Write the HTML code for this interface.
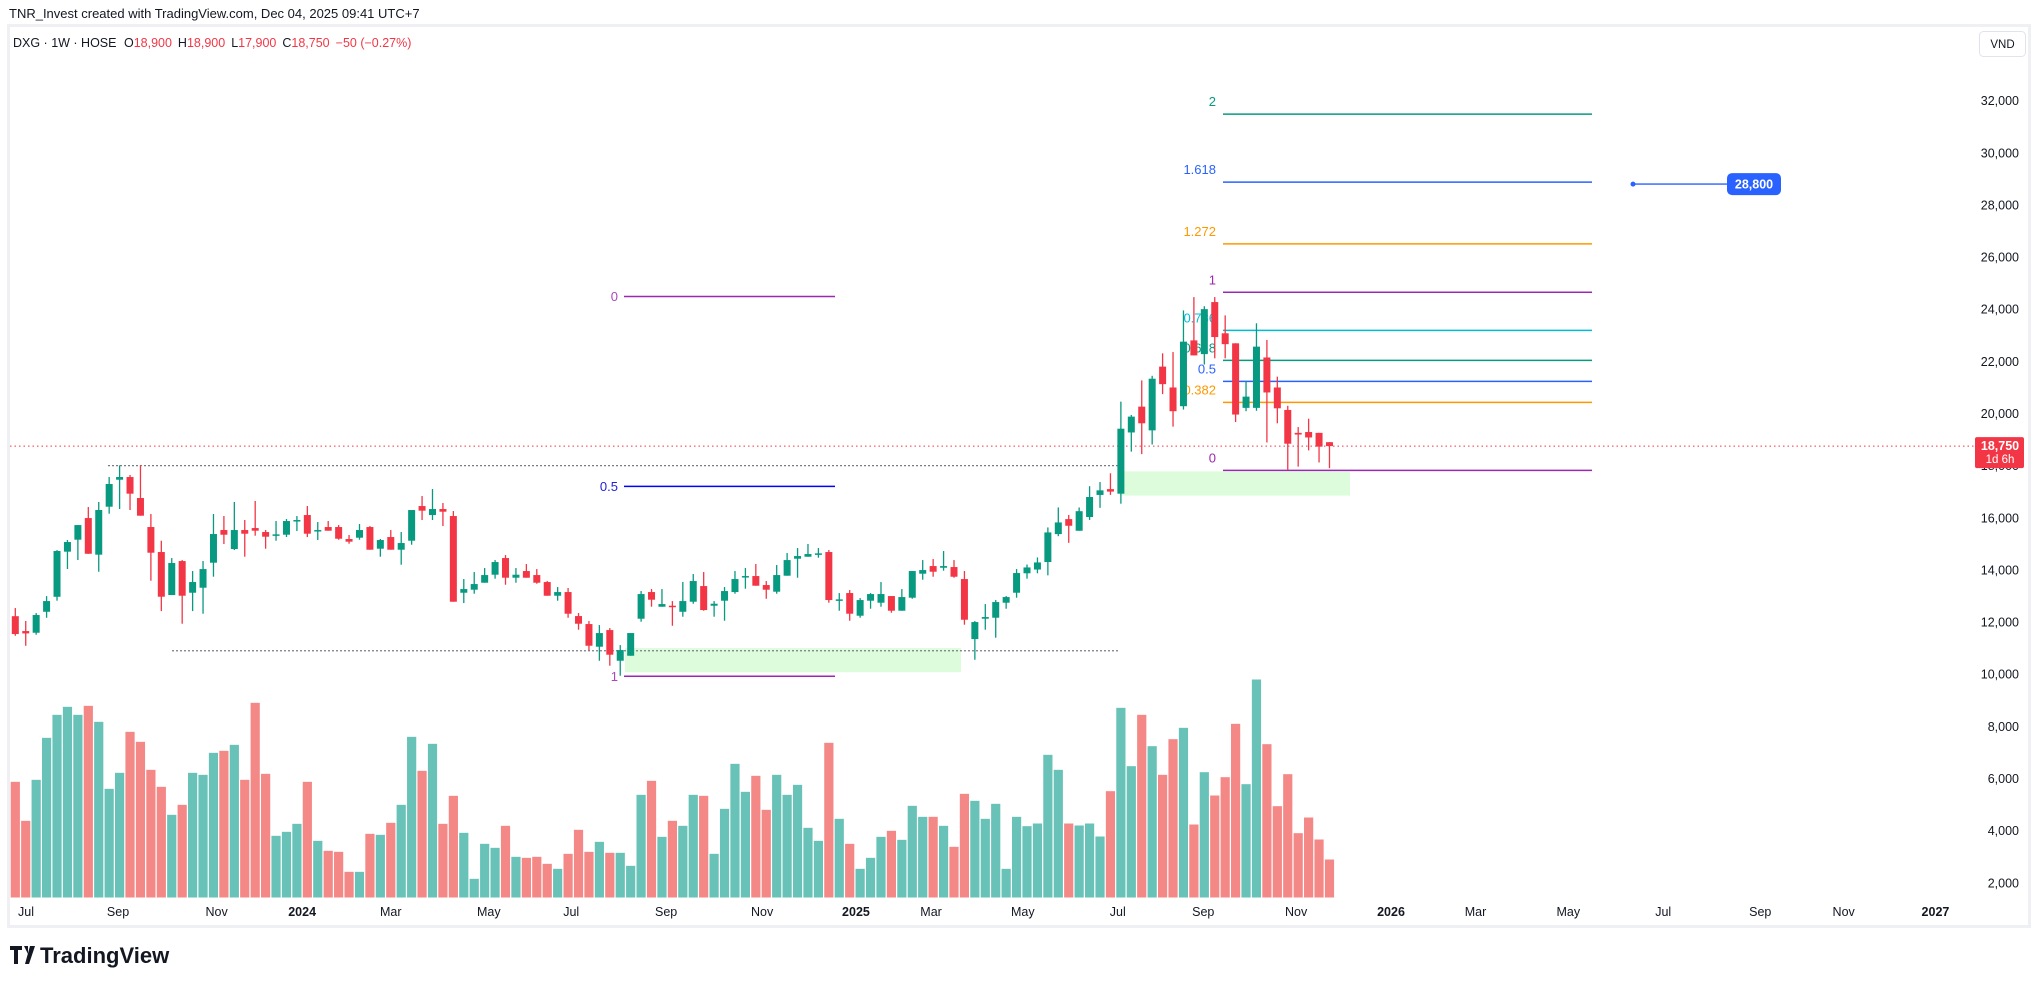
<!DOCTYPE html>
<html><head><meta charset="utf-8"><style>
html,body{margin:0;padding:0;background:#fff;width:2039px;height:986px;overflow:hidden;font-family:"Liberation Sans",sans-serif;}
svg{display:block}
</style></head><body>
<svg id="chart" width="2039" height="986" viewBox="0 0 2039 986" xmlns="http://www.w3.org/2000/svg" font-family="Liberation Sans, sans-serif">
<rect x="0" y="0" width="2039" height="986" fill="#fff"/>
<text x="9" y="18" font-size="13" fill="#131722">TNR_Invest created with TradingView.com, Dec 04, 2025 09:41 UTC+7</text>
<rect x="8.5" y="25.5" width="2021" height="901" fill="none" stroke="#eef0f4" stroke-width="3"/>
<g id="layer-back"></g>
<g id="layer-candles"></g>
<g id="layer-front"></g>
<g font-size="12.5">
<text x="13" y="47" fill="#131722">DXG · 1W · HOSE <tspan dx="4">O</tspan><tspan fill="#f23645">18,900</tspan><tspan dx="6">H</tspan><tspan fill="#f23645">18,900</tspan><tspan dx="6">L</tspan><tspan fill="#f23645">17,900</tspan><tspan dx="6">C</tspan><tspan fill="#f23645">18,750</tspan><tspan dx="6" fill="#f23645">−50 (−0.27%)</tspan></text>
</g>
<g>
<rect x="1979.5" y="31.5" width="46" height="25" rx="4" fill="#fff" stroke="#e0e3eb"/>
<text x="2002.5" y="48" font-size="11.5" text-anchor="middle" fill="#131722">VND</text>
</g>
<g>
<path d="M10 946h12v4h-4v14h-4v-14h-4z M24 946h4v8z M30 946h5l-6 18h-4z" fill="#131722"/>
<text x="40" y="963" font-size="22" font-weight="bold" fill="#131722">TradingView</text>
</g>
</svg>
<script>
const opens=[12225,11655,11590,12395,12970,14700,15160,15990,14585,16425,17460,17563,16758,15645,14686,13036,14340,13125,13317,14277,15530,14801,15530,15606,15453,15338,15351,15888,16105,15504,15645,15645,15185,15236,15645,14814,15261,14775,15120,16450,16105,16336,16067,13125,13241,13509,13816,14455,13701,13957,13803,13535,13010,13151,12230,11923,11054,11693,10516,10708,12128,13151,12588,12627,12395,12780,13381,12627,12819,13151,13739,13765,13420,13164,13778,14430,14506,14622,14686,12819,13113,12243,12819,12742,12997,12435,12934,13855,14148,14084,14110,13650,11347,12128,12166,12742,13125,13871,14015,14303,15374,15949,15502,16029,16876,17100,16924,19273,20263,19353,21798,20998,20280,22804,22277,24274,23076,22692,20216,20216,22149,20998,20136,19257,19289,19257,18900];
const highs=[12537,12040,12345,12995,14760,15147,15720,16412,16605,17563,18011,17640,18011,16144,15120,14455,14378,13957,14340,16144,16067,16605,15914,16643,15530,15875,15952,16067,16450,15837,15875,15722,15338,15760,15683,15185,15530,15453,16297,16834,17103,16566,16259,13650,13918,14072,14378,14570,14072,14225,14033,13573,13343,13305,12345,12038,11885,11770,11117,11578,13189,13266,13266,12805,13535,13842,13918,12805,13343,13957,14072,14225,13573,14187,14647,14839,14993,14839,14763,13113,13228,12921,13113,13535,12997,13266,13957,14378,14417,14724,14378,13957,12038,12690,12844,12997,14033,14207,14479,15630,16396,16109,16396,17211,17371,17707,20455,19944,21270,21446,22309,22357,23955,24466,24115,24466,23763,22692,21238,23460,22820,21414,20296,19480,19800,19257,18900];
const lows=[11475,11090,11515,12165,12820,14035,14380,14620,13930,16157,16336,16298,16080,13586,12422,13036,11936,12422,12320,13740,14993,14763,14507,15312,14814,15120,15261,15491,15261,15146,15504,15159,15005,15159,14775,14507,14775,14200,14967,15914,15914,15683,12780,12729,13087,13509,13663,13432,13509,13701,13471,13010,12819,12166,11706,10913,10516,10325,9941,10708,12013,12588,12588,11859,12205,12703,12435,12205,12051,13087,13279,13394,12895,13087,13778,13701,14506,14468,12742,12435,12051,12166,12512,12588,12358,12435,12895,13624,13739,13970,13701,11898,10554,11706,11399,12512,12934,13664,13871,13792,15294,15038,15502,15917,16381,16876,16540,18538,18442,18810,20743,19496,20152,22229,21877,22117,22117,19672,20088,20104,18889,19624,17835,17962,18586,18122,17900];
const closes=[11540,11565,12270,12805,14725,15070,15720,14620,16298,17295,17563,16924,16080,14660,12972,14264,13010,13535,14033,15376,15350,15530,15389,15504,15274,15364,15875,15914,15389,15530,15504,15197,15083,15530,14775,15146,14775,15031,16297,16272,16336,16233,12780,13266,13458,13803,14302,13701,13816,13701,13509,13010,13151,12320,11936,11092,11578,10747,10926,11578,13074,12857,12690,12575,12805,13573,12460,12703,13189,13650,13765,13394,13241,13803,14378,14532,14609,14635,12844,12870,12320,12844,13074,13074,12435,12959,13957,13995,13931,14148,13739,12089,12000,12192,12767,12959,13880,14095,14287,15438,15821,15694,16253,16796,17052,17004,19417,19880,19624,21334,21126,20088,22756,22229,24003,22932,22660,19960,20647,22564,20807,20200,18841,19193,19081,18729,18750];
const volumes=[347,230,353,479,548,572,548,575,527,326,374,497,467,383,332,248,278,374,368,434,440,458,353,584,371,185,197,221,347,170,140,137,77,77,191,188,224,278,482,380,461,221,305,194,56,161,149,215,122,119,122,101,86,131,203,137,167,134,134,95,308,350,182,230,215,308,305,131,266,401,317,365,263,368,308,338,209,170,464,236,161,86,119,182,200,173,275,242,242,215,152,311,290,236,281,86,242,214,222,428,383,222,216,222,183,319,569,394,548,454,368,475,509,219,376,306,361,521,340,654,460,274,370,193,240,174,114];
const priceTicks=[32000,30000,28000,26000,24000,22000,20000,18000,16000,14000,12000,10000,8000,6000,4000,2000];
const timeTickLabels=["Jul","Sep","Nov","2024","Mar","May","Jul","Sep","Nov","2025","Mar","May","Jul","Sep","Nov","2026","Mar","May","Jul","Sep","Nov","2027"];
const timeTickWeeks=[1.03,9.85,19.3,27.5,36,45.4,53.3,62.4,71.6,80.6,87.8,96.6,105.7,113.9,122.8,131.9,140,148.9,158,167.3,175.3,184.1];
const lastPrice=18750;
const targetPrice=28800;
const fibA_low=9920, fibA_high=24490;
const fibA_levels=[0,0.5,1];
const fibB_low=17817, fibB_high=24650;
const fibB_levels=[2,1.618,1.272,1,0.786,0.618,0.5,0.382,0];
const fibB_labels=["2","1.618","1.272","1","0.786","0.618","0.5","0.382","0"];
const supportLevels=[18000,10900];

const NS="http://www.w3.org/2000/svg";
function xw(i){return 15.3+i*10.43;}
function yp(p){return 413.5-(p-20000)*0.02607;}
const VOL_BASE=897.5, VOL_MAX=654, VOL_PX=218;
function yv(v){return VOL_BASE-v/VOL_MAX*VOL_PX;}
function mk(tag,attrs,parent){const e=document.createElementNS(NS,tag);for(const k in attrs)e.setAttribute(k,attrs[k]);parent.appendChild(e);return e;}
const back=document.getElementById('layer-back'),cg=document.getElementById('layer-candles'),front=document.getElementById('layer-front');
const svg=document.getElementById('chart');

// zones
let z=mk('rect',{x:625,y:yp(11000),width:336,height:yp(10000)-yp(11000)-2,fill:'#dcfcdc'},back);


z=mk('rect',{x:1120,y:yp(17780),width:230,height:yp(16850)-yp(17780),fill:'#dcfcdc'},back);



// support dotted lines
let sl=mk('line',{x1:108,x2:1119,y1:yp(supportLevels[0]),y2:yp(supportLevels[0]),stroke:'#787b86','stroke-dasharray':'2 2','stroke-width':1.3},back);


sl=mk('line',{x1:172,x2:1119,y1:yp(supportLevels[1]),y2:yp(supportLevels[1]),stroke:'#787b86','stroke-dasharray':'2 2','stroke-width':1.3},back);



// last price line
let lp=mk('line',{x1:10,x2:1975,y1:yp(lastPrice),y2:yp(lastPrice),stroke:'#f23645','stroke-dasharray':'1.5 3','stroke-width':1},back);



// fib A
const fibAColors={0:'#9c27b0',0.5:'#0000ff',1:'#9c27b0'};
const fibATextColors={0:'#ab47bc',0.5:'#2121d8',1:'#ab47bc'};
fibA_levels.forEach(l=>{
  const p=fibA_low+(fibA_high-fibA_low)*(1-l);
  const y=yp(p);
  const ln=mk('line',{x1:624,x2:835,y1:y,y2:y,stroke:fibAColors[l],'stroke-width':1.5},back);
  
  
  const t=mk('text',{x:618,y:y+4.5,'font-size':13,'text-anchor':'end',fill:fibATextColors[l]},back);
  t.textContent=String(l);
  
  
});
// fib B
const fibBColors=['#089981','#2962ff','#ff9800','#9c27b0','#00bcd4','#089981','#2962ff','#ff9800','#9c27b0'];
fibB_levels.forEach((l,k)=>{
  const p=fibB_low+(fibB_high-fibB_low)*l;
  const y=yp(p);
  const ln=mk('line',{x1:1223,x2:1592,y1:y,y2:y,stroke:fibBColors[k],'stroke-width':1.5},back);
  
  
  const t=mk('text',{x:1216,y:y-8,'font-size':13,'text-anchor':'end',fill:fibBColors[k]},back);
  t.textContent=fibB_labels[k];
  
  
});

// volumes
volumes.forEach((v,i)=>{
  const up=closes[i]>=opens[i];
  const r=mk('rect',{x:xw(i)-4.6,y:yv(v),width:9.2,height:VOL_BASE-yv(v),fill:up?'#69c2b8':'#f48886'},cg);
  
  
});
// candles
opens.forEach((o,i)=>{
  const c=closes[i],up=c>=o,col=up?'#089981':'#f23645',x=xw(i);
  const g=mk('g',{},cg);
  
  
  mk('line',{x1:x,x2:x,y1:yp(highs[i]),y2:yp(lows[i]),stroke:col,'stroke-width':1.3},g);
  const top=yp(Math.max(o,c)),h=Math.max(1.5,yp(Math.min(o,c))-top);
  mk('rect',{x:x-3.5,y:top,width:7,height:h,fill:col},g);
});

// price axis
priceTicks.forEach(p=>{
  const t=mk('text',{x:2019,y:yp(p)+4.5,'font-size':12.5,'text-anchor':'end',fill:'#131722'},front);
  t.textContent=p.toLocaleString('en-US');
  
  
});
// last price label
const plg=mk('g',{},front);


mk('rect',{x:1975,y:yp(lastPrice)-9,width:49,height:31,rx:2,fill:'#f23645'},plg);
let t1=mk('text',{x:2000,y:yp(lastPrice)+4,'font-size':12.5,'font-weight':'bold','text-anchor':'middle',fill:'#fff'},plg);
t1.textContent=lastPrice.toLocaleString('en-US');
let t2=mk('text',{x:2000,y:yp(lastPrice)+17,'font-size':11.5,'text-anchor':'middle',fill:'#fff'},plg);
t2.textContent='1d 6h';

// target marker
const tg=mk('g',{},front);


mk('line',{x1:1633,x2:1727,y1:yp(targetPrice),y2:yp(targetPrice),stroke:'#2962ff','stroke-width':1.3},tg);
mk('circle',{cx:1633,cy:yp(targetPrice),r:2.5,fill:'#2962ff'},tg);
mk('rect',{x:1727,y:yp(targetPrice)-11,width:54,height:22,rx:5,fill:'#2962ff'},tg);
let tt=mk('text',{x:1754,y:yp(targetPrice)+4.5,'font-size':12.5,'font-weight':'bold','text-anchor':'middle',fill:'#fff'},tg);
tt.textContent=targetPrice.toLocaleString('en-US');

// time axis
timeTickLabels.forEach((l,k)=>{
  const yr=/^\d{4}$/.test(l);
  const t=mk('text',{x:xw(timeTickWeeks[k]),y:916,'font-size':12.5,'text-anchor':'middle',fill:'#131722','font-weight':yr?'bold':'normal'},front);
  t.textContent=l;
  
  
});
</script>
</body></html>
